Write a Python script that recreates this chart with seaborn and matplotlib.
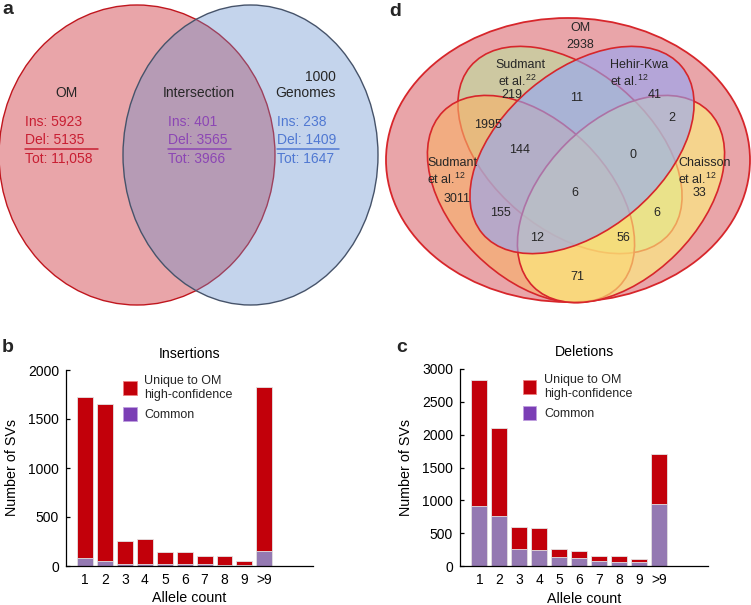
import numpy as np
import pandas as pd
import seaborn as sns
import matplotlib.pyplot as plt
from matplotlib.patches import Ellipse, Patch

# ---- data ----
allele_labels = ['1', '2', '3', '4', '5', '6', '7', '8', '9', '>9']
ins_total = [1723, 1649, 253, 274, 142, 142, 98, 98, 51, 1824]
ins_common = [84, 54, 24, 17, 17, 17, 17, 10, 7, 155]
del_total = [2832, 2107, 592, 577, 265, 235, 148, 153, 112, 1709]
del_common = [908, 755, 265, 245, 133, 128, 82, 66, 61, 949]

# panel a (two-set Venn)
a_sets = ['OM', 'Intersection', '1000\nGenomes']
a_ins = [5923, 401, 238]
a_del = [5135, 3565, 1409]
a_tot = ['11,058', '3966', '1647']

# panel d (OM vs four call sets)
d_om_count = 2938
d_sets = ['Sudmant', 'Hehir-Kwa', 'Sudmant', 'Chaisson']
d_refs = ['22', '12', '12', '12']
d_only = [219, 41, 3011, 33]
# overlaps: S12&S22, S22&HK, HK&Ch, S12&S22&HK, S22&HK&Ch, all, S12&HK, S22&Ch, S12&HK&Ch, S12&S22&Ch, S12&Ch
d_overlap = [1995, 11, 2, 144, 0, 6, 155, 6, 12, 56, 71]

# ---- layout (pixels) ----
W, H = 751, 605
a_head_pos = [(66, 93, 'center'), (199, 93, 'center'), (336, 85, 'right')]
a_stat_x = [25, 168, 277]
a_line_w = [73, 63, 62]
d_name_pos = [(520, 65, 'center'), (610, 65, 'left'), (427, 163, 'left'), (678, 163, 'left')]
d_ref_pos = [(517, 81, 'center'), (610, 81, 'left'), (427, 179, 'left'), (678, 179, 'left')]
d_only_pos = [(512, 95), (655, 95), (457, 199), (699, 193)]
d_overlap_pos = [(488, 125), (577, 98), (672, 118), (520, 150), (633, 155), (575, 193),
                 (500, 213), (657, 213), (537, 238), (623, 238), (577, 277)]

red_txt, purple_txt, blue_txt = '#c81e32', '#8c46b4', '#5078d2'
bar_red, bar_purple, leg_purple = '#c2000a', '#9479b2', '#7b3fb5'

sns.set_theme(style='ticks')
plt.rcParams['font.family'] = ['Liberation Sans', 'DejaVu Sans']
plt.rcParams['mathtext.fontset'] = 'custom'
plt.rcParams['mathtext.rm'] = 'Liberation Sans'

fig = plt.figure(figsize=(W / 100, H / 100), dpi=100)


def px_axes(x0, y0, x1, y1):
    return fig.add_axes([x0 / W, 1 - y1 / H, (x1 - x0) / W, (y1 - y0) / H])


# ---- a ----
ax = px_axes(0, 0, 380, 310)
ax.set_xlim(0, 380)
ax.set_ylim(310, 0)
ax.axis('off')
ax.add_patch(Ellipse((137, 155), 276, 300, fc=(0.77, 0.05, 0.09, 0.37), ec='#c0161e', lw=1, clip_on=False))
ax.add_patch(Ellipse((250.5, 155), 255, 300, fc=(0.38, 0.55, 0.8, 0.37), ec='#46536a', lw=1, clip_on=False))
cols = [red_txt, purple_txt, blue_txt]
for i, name in enumerate(a_sets):
    x, y, ha = a_head_pos[i]
    ax.text(x, y, name, ha=ha, va='center', fontsize=10, multialignment='right', linespacing=1.15)
    x = a_stat_x[i]
    ax.text(x, 122, 'Ins: %d' % a_ins[i], color=cols[i], fontsize=10, va='center')
    ax.text(x, 140, 'Del: %d' % a_del[i], color=cols[i], fontsize=10, va='center')
    ax.text(x, 159, 'Tot: %s' % a_tot[i], color=cols[i], fontsize=10, va='center')
    ax.plot([x, x + a_line_w[i]], [149, 149], color=cols[i], lw=1.1)

# ---- d ----
ax = px_axes(380, 0, 751, 310)
ax.set_xlim(380, 751)
ax.set_ylim(310, 0)
ax.axis('off')
edge = '#d7262b'
ax.add_patch(Ellipse((568, 160), 364, 284, fc=(0.77, 0.05, 0.09, 0.37), ec=edge, lw=1.3))
shapes = [  # S22, S12, Ch, HK drawn in this order
    ((570, 150), 260, 160, 40, '#bbe19c'),
    ((531, 199), 248, 156, 45, '#f9b267'),
    ((621, 199), 248, 156, -45, '#fef57b'),
    ((582, 150), 260, 160, -40, '#91a6f8'),
]
for c, w, h, ang, fc in shapes:
    rgb = plt.matplotlib.colors.to_rgb(fc)
    ax.add_patch(Ellipse(c, w, h, angle=ang, fc=rgb + (0.6,), ec=edge, lw=1.2))

ax.text(580, 28, 'OM', ha='center', va='center', fontsize=9)
ax.text(580, 45, str(d_om_count), ha='center', va='center', fontsize=9)
for i in range(4):
    x, y, ha = d_name_pos[i]
    ax.text(x, y, d_sets[i], ha=ha, va='center', fontsize=9)
    x, y, ha = d_ref_pos[i]
    ax.text(x, y, 'et al.$^{%s}$' % d_refs[i], ha=ha, va='center', fontsize=9)
    x, y = d_only_pos[i]
    ax.text(x, y, str(d_only[i]), ha='center', va='center', fontsize=9)
for (x, y), v in zip(d_overlap_pos, d_overlap):
    ax.text(x, y, str(v), ha='center', va='center', fontsize=9)


# ---- b, c ----
def bar_panel(ax, total, common, ymax, title, leg_x):
    df = pd.DataFrame({'allele': allele_labels, 'total': total, 'common': common})
    sns.barplot(data=df, x='allele', y='total', order=allele_labels, color=bar_red,
                saturation=1, width=0.8, edgecolor='#e4e4e4', linewidth=0.6,
                errorbar=None, ax=ax)
    sns.barplot(data=df, x='allele', y='common', order=allele_labels, color=bar_purple,
                saturation=1, width=0.8, edgecolor='#e4e4e4', linewidth=0.6,
                errorbar=None, ax=ax)
    ax.set_xlim(-0.97, 11.45)
    ax.set_ylim(0, ymax)
    ax.set_yticks(np.arange(0, ymax + 1, 500))
    sns.despine(ax=ax)
    for s in ['left', 'bottom']:
        ax.spines[s].set_color('black')
        ax.spines[s].set_linewidth(0.9)
    ax.tick_params(axis='x', length=0, pad=5, labelsize=10, colors='black')
    ax.tick_params(axis='y', direction='in', length=3, width=0.9, pad=5, labelsize=10, colors='black')
    ax.set_xlabel('Allele count', fontsize=10.3, color='black')
    ax.set_ylabel('Number of SVs', fontsize=10.3, color='black')
    ax.yaxis.set_label_coords(-0.19, 0.5)
    ax.xaxis.set_label_coords(0.5, -0.13)
    ax.set_title(title, fontsize=10.2, pad=9, color='black')
    handles = [Patch(facecolor=bar_red, edgecolor='#ee8080', lw=0.6),
               Patch(facecolor=leg_purple, edgecolor='#c0a0e0', lw=0.6)]
    ax.legend(handles, ['Unique to OM\nhigh-confidence', 'Common'], loc='upper left',
              bbox_to_anchor=(leg_x, 0.975), frameon=False, fontsize=9,
              handlelength=1.1, handleheight=1.3, handletextpad=0.6,
              labelspacing=0.5, borderpad=0, borderaxespad=0)


ax_b = px_axes(66, 370, 313, 566)
bar_panel(ax_b, ins_total, ins_common, 2000, 'Insertions', 0.231)
ax_c = px_axes(460, 369, 708, 566)
bar_panel(ax_c, del_total, del_common, 3000, 'Deletions', 0.253)

for lab, x, y in [('a', 2, 10), ('d', 389, 12), ('b', 2, 347), ('c', 396, 347)]:
    fig.text(x / W, 1 - y / H, lab, fontsize=14, fontweight='bold', va='center', ha='left')

fig.savefig('out.png', dpi=100)
